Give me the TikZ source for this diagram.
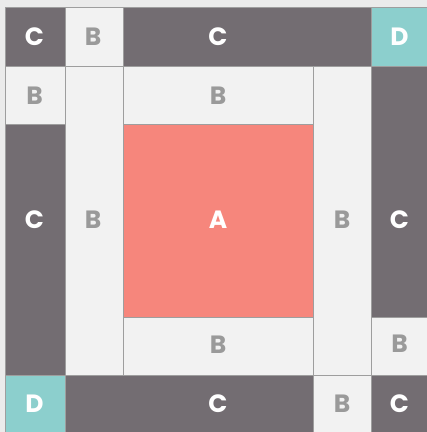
\documentclass[tikz,border=0pt]{standalone}
\usepackage{fontspec}
\setmainfont{Poppins}
\definecolor{cdark}{HTML}{736D72}
\definecolor{blight}{HTML}{F2F2F2}
\definecolor{dteal}{HTML}{8CCFCD}
\definecolor{asalmon}{HTML}{F6867C}
\definecolor{bgray}{HTML}{EBEBEB}
\definecolor{edge}{HTML}{9E9E9E}
\definecolor{btext}{HTML}{9A9A9A}
\tikzset{
  cellC/.style={fill=cdark,draw=edge,line width=0.8pt},
  cellB/.style={fill=blight,draw=edge,line width=0.8pt},
  cellD/.style={fill=dteal,draw=edge,line width=0.8pt},
  cellA/.style={fill=asalmon,draw=edge,line width=0.8pt},
  lab/.style={font=\fontsize{25}{25}\selectfont\bfseries,inner sep=0pt,anchor=center},
  labW/.style={lab,text=white},
  labB/.style={lab,text=btext}
}
\begin{document}
\begin{tikzpicture}[x=1pt,y=-1pt]
\useasboundingbox (0,0) rectangle (427,432);
\fill[bgray] (0,0) rectangle (427,432);
\begin{scope}
\clip (0,0) rectangle (427,432);
\def\xa{5.7}\def\xb{65}\def\xc{123}\def\xd{313.7}\def\xe{371.7}\def\xf{440}
\def\ya{7.3}\def\yb{66.7}\def\yc{124.5}\def\yd{317}\def\ye{375.5}\def\yf{445}
% top row
\path[cellC] (\xa,\ya) rectangle (\xb,\yb);
\path[cellB] (\xb,\ya) rectangle (\xc,\yb);
\path[cellC] (\xc,\ya) rectangle (\xe,\yb);
\path[cellD] (\xe,\ya) rectangle (\xf,\yb);
% second row & tall columns
\path[cellB] (\xa,\yb) rectangle (\xb,\yc);
\path[cellB] (\xb,\yb) rectangle (\xc,\ye);
\path[cellB] (\xc,\yb) rectangle (\xd,\yc);
\path[cellB] (\xd,\yb) rectangle (\xe,\ye);
\path[cellC] (\xe,\yb) rectangle (\xf,\yd);
% middle
\path[cellC] (\xa,\yc) rectangle (\xb,\ye);
\path[cellA] (\xc,\yc) rectangle (\xd,\yd);
\path[cellB] (\xc,\yd) rectangle (\xd,\ye);
\path[cellB] (\xe,\yd) rectangle (\xf,\ye);
% bottom row
\path[cellD] (\xa,\ye) rectangle (\xb,\yf);
\path[cellC] (\xb,\ye) rectangle (\xd,\yf);
\path[cellB] (\xd,\ye) rectangle (\xe,\yf);
\path[cellC] (\xe,\ye) rectangle (\xf,\yf);
\end{scope}
% labels
\node[labW] (t1) at (34.5,37) {C};
\node[labB] (t2) at (93,37) {B};
\node[labW] (t3) at (218,37) {C};
\node[labW] (t4) at (399.5,37) {D};
\node[labB] (r1) at (34.5,96) {B};
\node[labB] (r2) at (218,96) {B};
\node[labW] (m1) at (34.5,220) {C};
\node[labB] (m2) at (93,220) {B};
\node[labW] (m3) at (218,220) {A};
\node[labB] (m4) at (342,220) {B};
\node[labW] (m5) at (399.5,220) {C};
\node[labB] (s1) at (218,345) {B};
\node[labB] (s2) at (399.5,344) {B};
\node[labW] (b1) at (34.5,404) {D};
\node[labW] (b2) at (218,404) {C};
\node[labB] (b3) at (342,404) {B};
\node[labW] (b4) at (399.5,404) {C};
\end{tikzpicture}
\end{document}
